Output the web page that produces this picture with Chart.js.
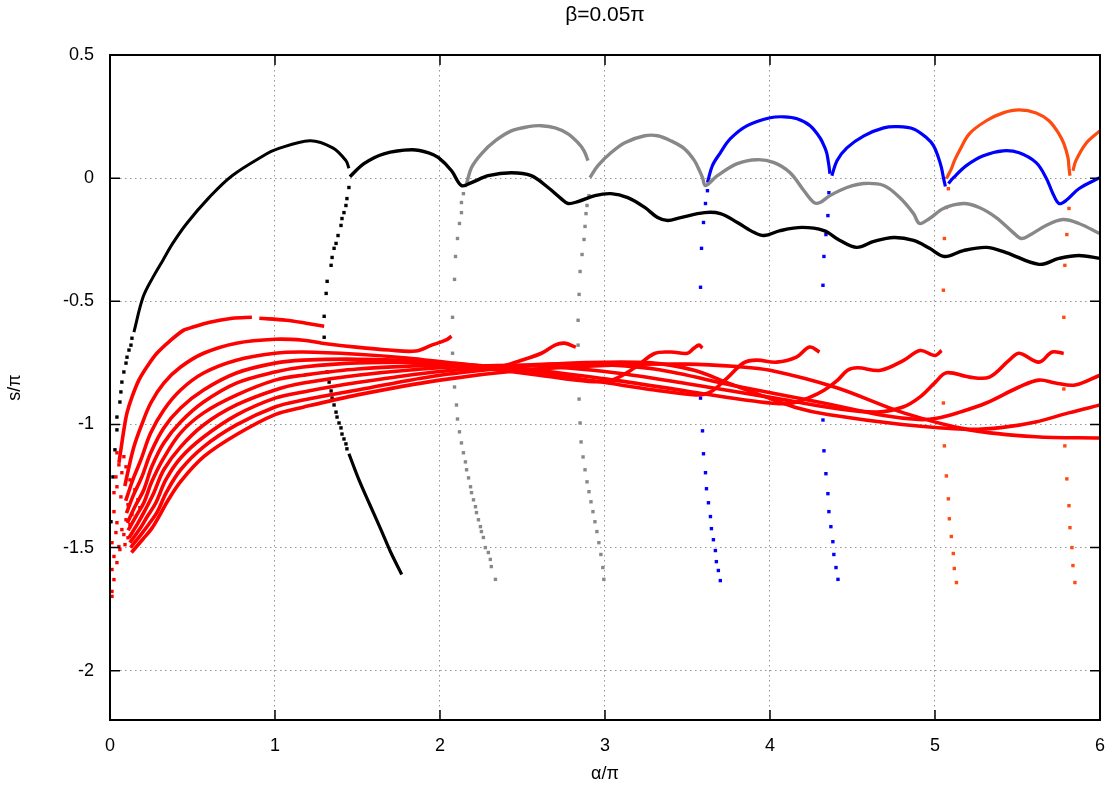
<!DOCTYPE html>
<html>
<head>
<meta charset="utf-8">
<script src="https://cdn.jsdelivr.net/npm/chart.js"></script>
<style>
html, body { margin: 0; padding: 0; background: #fff; }
canvas { display: block; }
</style>
</head>
<body>
<canvas id="plot" width="1120" height="792"></canvas>
<script>
// axis ticks
const xTicks = [0, 1, 2, 3, 4, 5, 6];
const yTicks = [-2, -1.5, -1, -0.5, 0, 0.5];

// black branch: rise from the left edge, peak near 1.2, cusp at 1.45
const blackRiseDots = [[0.006,-1.395],[0.018,-1.213],[0.030,-1.103],[0.042,-1.022],[0.042,-0.970],[0.060,-0.909],[0.066,-0.868],[0.072,-0.828],[0.084,-0.787],[0.097,-0.751],[0.103,-0.727],[0.115,-0.698],[0.127,-0.678],[0.133,-0.650]];
const blackRise = [[0.145,-0.625],[0.2,-0.484],[0.26,-0.403],[0.32,-0.334],[0.38,-0.265],[0.465,-0.184],[0.6,-0.079],[0.74,0.010],[0.95,0.099],[1.0,0.115],[1.21,0.152],[1.35,0.123],[1.43,0.071],[1.448,0.04]];
const blackDropDots = [[1.448,-0.038],[1.436,-0.083],[1.430,-0.111],[1.418,-0.140],[1.406,-0.164],[1.400,-0.192],[1.382,-0.233],[1.370,-0.265],[1.358,-0.285],[1.346,-0.322],[1.340,-0.354],[1.316,-0.419],[1.310,-0.468],[1.298,-0.561],[1.298,-0.646],[1.316,-0.787],[1.328,-0.828],[1.340,-0.864],[1.346,-0.893],[1.358,-0.921],[1.370,-0.950],[1.376,-0.970],[1.388,-0.994],[1.400,-1.014],[1.406,-1.039],[1.418,-1.059],[1.430,-1.079],[1.436,-1.099]];
const blackDrop = [[1.448,-1.119],[1.509,-1.225],[1.575,-1.326],[1.642,-1.427],[1.702,-1.520],[1.768,-1.609]];
const blackWave = [[1.454,0.006],[1.539,0.059],[1.660,0.099],[1.829,0.115],[1.931,0.103],[1.991,0.083],[2.070,0.030],[2.130,-0.030],[2.191,-0.018],[2.293,0.010],[2.432,0.022],[2.553,0.010],[2.655,-0.038],[2.734,-0.083],[2.776,-0.103],[2.836,-0.095],[2.939,-0.071],[3.036,-0.063],[3.138,-0.079],[3.241,-0.119],[3.319,-0.160],[3.380,-0.172],[3.458,-0.160],[3.603,-0.140],[3.699,-0.144],[3.802,-0.180],[3.905,-0.221],[3.965,-0.233],[4.062,-0.213],[4.194,-0.200],[4.327,-0.213],[4.424,-0.253],[4.526,-0.281],[4.629,-0.257],[4.750,-0.241],[4.870,-0.253],[4.967,-0.285],[5.057,-0.318],[5.172,-0.294],[5.311,-0.281],[5.431,-0.302],[5.630,-0.350],[5.751,-0.326],[5.872,-0.314],[5.999,-0.326]];

// gray branch
const grayArc = [[2.161,-0.022],[2.191,0.043],[2.251,0.099],[2.336,0.152],[2.432,0.192],[2.535,0.209],[2.613,0.213],[2.698,0.204],[2.776,0.180],[2.836,0.144],[2.873,0.111],[2.897,0.071]];
const grayWave = [[2.909,0.002],[2.957,0.051],[3.036,0.103],[3.120,0.144],[3.241,0.172],[3.319,0.172],[3.398,0.152],[3.482,0.119],[3.542,0.071],[3.573,0.030],[3.591,0.002],[3.609,-0.030],[3.681,0.010],[3.802,0.059],[3.923,0.075],[4.025,0.063],[4.122,0.022],[4.206,-0.051],[4.267,-0.099],[4.303,-0.099],[4.363,-0.071],[4.466,-0.038],[4.569,-0.022],[4.689,-0.030],[4.786,-0.079],[4.870,-0.144],[4.906,-0.184],[4.967,-0.164],[5.051,-0.123],[5.172,-0.103],[5.268,-0.119],[5.371,-0.160],[5.474,-0.221],[5.522,-0.245],[5.570,-0.233],[5.673,-0.192],[5.775,-0.168],[5.872,-0.184],[5.999,-0.225]];
const grayDrop1 = [[2.154,-0.030],[2.142,-0.063],[2.130,-0.099],[2.130,-0.140],[2.118,-0.184],[2.106,-0.245],[2.094,-0.318],[2.088,-0.411],[2.076,-0.565],[2.076,-0.711],[2.088,-0.848],[2.100,-0.921],[2.106,-0.978],[2.118,-1.030],[2.130,-1.075],[2.142,-1.115],[2.154,-1.152],[2.161,-1.184],[2.173,-1.217],[2.185,-1.253],[2.191,-1.277],[2.203,-1.306],[2.215,-1.334],[2.221,-1.358],[2.233,-1.387],[2.245,-1.415],[2.251,-1.435],[2.263,-1.459],[2.275,-1.500],[2.293,-1.520],[2.305,-1.548],[2.311,-1.577],[2.336,-1.629]];
const grayDrop2 = [[2.903,-0.071],[2.891,-0.111],[2.885,-0.144],[2.879,-0.196],[2.873,-0.249],[2.861,-0.310],[2.849,-0.379],[2.843,-0.472],[2.837,-0.577],[2.837,-0.678],[2.843,-0.897],[2.849,-0.994],[2.855,-1.071],[2.867,-1.132],[2.879,-1.184],[2.891,-1.233],[2.903,-1.273],[2.915,-1.314],[2.927,-1.354],[2.939,-1.395],[2.951,-1.435],[2.963,-1.480],[2.975,-1.528],[2.987,-1.581],[2.993,-1.629]];

// blue branch
const blueArc1 = [[3.621,-0.018],[3.651,0.051],[3.699,0.103],[3.760,0.160],[3.862,0.213],[4.001,0.245],[4.086,0.249],[4.164,0.241],[4.243,0.213],[4.303,0.164],[4.333,0.123],[4.345,0.099],[4.357,0.051],[4.363,0.018]];
const blueArc2 = [[4.375,0.010],[4.406,0.071],[4.466,0.123],[4.569,0.172],[4.689,0.204],[4.768,0.209],[4.870,0.200],[4.949,0.164],[4.991,0.132],[5.021,0.083],[5.039,0.043],[5.051,0.002],[5.063,-0.034]];
const blueArc3 = [[5.081,-0.022],[5.112,0.002],[5.190,0.051],[5.293,0.091],[5.413,0.111],[5.510,0.103],[5.613,0.063],[5.673,0.002],[5.715,-0.063],[5.751,-0.103],[5.794,-0.091],[5.872,-0.043],[5.999,0.002]];
const blueDrop1 = [[3.621,-0.051],[3.609,-0.103],[3.597,-0.180],[3.585,-0.285],[3.579,-0.443],[3.579,-0.893],[3.591,-1.026],[3.597,-1.119],[3.609,-1.196],[3.615,-1.261],[3.627,-1.318],[3.639,-1.374],[3.645,-1.423],[3.657,-1.468],[3.669,-1.512],[3.675,-1.557],[3.687,-1.593],[3.699,-1.634]];
const blueDrop2 = [[4.357,-0.059],[4.351,-0.152],[4.339,-0.229],[4.327,-0.318],[4.321,-0.435],[4.321,-0.982],[4.327,-1.107],[4.339,-1.200],[4.351,-1.281],[4.357,-1.354],[4.369,-1.415],[4.381,-1.476],[4.387,-1.528],[4.400,-1.581],[4.412,-1.629]];

// orange branch
const orangeArc1 = [[5.069,-0.002],[5.099,0.038],[5.118,0.071],[5.148,0.111],[5.208,0.180],[5.311,0.233],[5.413,0.265],[5.510,0.277],[5.613,0.265],[5.691,0.233],[5.751,0.180],[5.781,0.140],[5.806,0.083],[5.812,0.043],[5.818,0.010]];
const orangeArc2 = [[5.836,0.030],[5.854,0.071],[5.914,0.140],[5.999,0.192]];
const orangeDrop1 = [[5.081,-0.043],[5.069,-0.119],[5.057,-0.245],[5.051,-0.455],[5.051,-0.913],[5.057,-1.087],[5.069,-1.209],[5.081,-1.302],[5.087,-1.383],[5.099,-1.455],[5.111,-1.524],[5.117,-1.585],[5.130,-1.642]];
const orangeDrop2 = [[5.812,-0.123],[5.799,-0.229],[5.787,-0.354],[5.781,-0.565],[5.781,-0.856],[5.787,-1.087],[5.799,-1.221],[5.812,-1.330],[5.818,-1.419],[5.830,-1.500],[5.836,-1.573],[5.848,-1.642]];

// red family
const red1a = [[0.054,-1.156],[0.066,-1.103],[0.084,-1.022],[0.103,-0.953],[0.133,-0.889],[0.175,-0.820],[0.223,-0.767],[0.284,-0.711],[0.368,-0.658],[0.447,-0.617],[0.483,-0.609],[0.604,-0.585],[0.742,-0.569],[0.86,-0.565]];
const red1b = [[0.905,-0.569],[1.068,-0.577],[1.189,-0.589],[1.298,-0.601]];
const red2 = [[0.09,-1.25],[0.115,-1.172],[0.145,-1.091],[0.187,-1.010],[0.247,-0.913],[0.326,-0.832],[0.428,-0.767],[0.567,-0.711],[0.766,-0.670],[1.0,-0.654],[1.171,-0.658],[1.285,-0.670],[1.491,-0.686],[1.690,-0.698],[1.853,-0.702],[1.949,-0.678],[2.034,-0.658],[2.070,-0.642]];
const red3 = [[0.095,-1.31],[0.12,-1.26],[0.145,-1.213],[0.187,-1.144],[0.247,-1.034],[0.326,-0.941],[0.428,-0.860],[0.567,-0.791],[0.766,-0.739],[1.0,-0.711],[1.171,-0.706],[1.5,-0.715],[1.8,-0.73],[2.1,-0.752],[2.35,-0.765],[2.494,-0.739],[2.615,-0.711],[2.697,-0.678],[2.755,-0.670],[2.823,-0.686]];
const red4 = [[0.10,-1.36],[0.14,-1.29],[0.193,-1.213],[0.247,-1.115],[0.326,-1.014],[0.428,-0.933],[0.567,-0.860],[0.766,-0.791],[1.0,-0.751],[1.171,-0.739],[1.5,-0.735],[1.9,-0.745],[2.3,-0.775],[2.6,-0.80],[2.9,-0.825],[3.04,-0.82],[3.18,-0.77],[3.30,-0.712],[3.40,-0.706],[3.50,-0.711],[3.54,-0.69],[3.57,-0.678],[3.59,-0.69]];
const red5 = [[0.105,-1.40],[0.15,-1.335],[0.205,-1.265],[0.253,-1.172],[0.326,-1.075],[0.428,-0.990],[0.567,-0.909],[0.766,-0.832],[1.0,-0.787],[1.171,-0.767],[1.5,-0.75],[2.0,-0.75],[2.5,-0.78],[3.0,-0.83],[3.3,-0.86],[3.55,-0.88],[3.64,-0.868],[3.74,-0.812],[3.84,-0.75],[3.92,-0.739],[4.04,-0.747],[4.16,-0.727],[4.24,-0.686],[4.30,-0.706]];
const red6 = [[0.11,-1.43],[0.16,-1.37],[0.205,-1.318],[0.253,-1.233],[0.326,-1.136],[0.428,-1.034],[0.567,-0.953],[0.766,-0.881],[1.0,-0.820],[1.171,-0.800],[1.5,-0.775],[2.0,-0.76],[2.5,-0.775],[3.0,-0.815],[3.5,-0.865],[3.9,-0.905],[4.12,-0.915],[4.24,-0.89],[4.33,-0.86],[4.41,-0.82],[4.47,-0.78],[4.53,-0.77],[4.67,-0.78],[4.81,-0.74],[4.91,-0.70],[5.0,-0.72],[5.04,-0.70]];
const red7 = [[0.115,-1.46],[0.17,-1.40],[0.215,-1.345],[0.266,-1.277],[0.326,-1.184],[0.428,-1.091],[0.567,-1.002],[0.766,-0.921],[1.0,-0.860],[1.171,-0.832],[1.5,-0.80],[2.0,-0.77],[2.5,-0.76],[3.0,-0.785],[3.5,-0.835],[4.0,-0.89],[4.4,-0.935],[4.65,-0.95],[4.81,-0.928],[4.91,-0.888],[5.0,-0.83],[5.07,-0.79],[5.21,-0.808],[5.33,-0.808],[5.45,-0.739],[5.51,-0.711],[5.63,-0.747],[5.71,-0.706],[5.78,-0.712]];
const red8 = [[0.12,-1.48],[0.18,-1.425],[0.225,-1.375],[0.278,-1.318],[0.338,-1.225],[0.428,-1.136],[0.567,-1.051],[0.766,-0.962],[1.0,-0.893],[1.171,-0.868],[1.5,-0.83],[2.0,-0.785],[2.5,-0.76],[2.9,-0.755],[3.3,-0.775],[3.8,-0.845],[4.3,-0.91],[4.7,-0.965],[4.9,-0.98],[5.01,-0.975],[5.15,-0.95],[5.31,-0.913],[5.51,-0.848],[5.63,-0.820],[5.73,-0.832],[5.85,-0.840],[6.0,-0.80]];
const red9 = [[0.125,-1.50],[0.19,-1.445],[0.235,-1.405],[0.284,-1.358],[0.344,-1.273],[0.428,-1.184],[0.567,-1.091],[0.766,-1.002],[1.0,-0.929],[1.171,-0.901],[1.5,-0.86],[2.0,-0.80],[2.5,-0.765],[2.84,-0.75],[3.28,-0.75],[3.54,-0.78],[3.74,-0.83],[3.94,-0.88],[4.15,-0.93],[4.35,-0.96],[4.8,-1.0],[5.2,-1.02],[5.41,-1.012],[5.61,-0.99],[5.81,-0.953],[6.0,-0.921]];
const red10 = [[0.13,-1.52],[0.2,-1.465],[0.25,-1.425],[0.30,-1.37],[0.35,-1.31],[0.43,-1.23],[0.57,-1.13],[0.77,-1.04],[1.0,-0.96],[1.17,-0.93],[1.5,-0.88],[2.0,-0.82],[2.5,-0.78],[3.0,-0.76],[3.5,-0.755],[3.8,-0.765],[4.0,-0.78],[4.4,-0.85],[4.81,-0.953],[5.21,-1.022],[5.61,-1.05],[6.0,-1.055]];
const redDots = [[0.042,-1.115],[0.054,-1.164],[0.036,-1.213],[0.024,-1.277],[0.084,-1.131],[0.097,-1.172],[0.072,-1.196],[0.042,-1.253],[0.066,-1.294],[0.024,-1.354],[0.042,-1.399],[0.072,-1.427],[0.036,-1.439],[0.012,-1.480],[0.054,-1.496],[0.024,-1.536],[0.042,-1.561],[0.012,-1.589],[0.024,-1.630],[0.012,-1.678],[0.012,-1.698],[0.121,-1.225],[0.151,-1.265],[0.169,-1.306],[0.181,-1.338],[0.109,-1.326],[0.133,-1.366],[0.097,-1.387],[0.121,-1.407],[0.084,-1.447],[0.109,-1.460],[0.060,-1.508],[0.091,-1.488]];

const BLACK = '#000000', GRAY = '#888888', BLUE = '#0000ff', ORANGE = '#ff4a10', RED = '#ff0000';
const FONT = 'Liberation Sans, Arial, sans-serif';

function pts(arr) {
    return arr.map(p => ({x: p[0], y: p[1]}));
}
function curve(arr, color, width) {
    return {data: pts(arr), showLine: true, borderColor: color, borderWidth: width,
            pointRadius: 0, tension: 0.35, fill: false};
}
function dots(arr, color) {
    return {data: pts(arr), showLine: false, pointStyle: 'rect', pointRadius: 2.4,
            backgroundColor: color, borderColor: color, borderWidth: 0};
}

// inward tick marks and the box around the plot
const frame = {
    id: 'frame',
    afterDatasetsDraw(chart) {
        const {ctx, chartArea: a, scales: {x, y}} = chart;
        ctx.save();
        ctx.strokeStyle = '#000';
        ctx.lineWidth = 1.5;
        ctx.beginPath();
        xTicks.forEach(v => {
            const px = x.getPixelForValue(v);
            ctx.moveTo(px, a.bottom); ctx.lineTo(px, a.bottom - 10);
            ctx.moveTo(px, a.top); ctx.lineTo(px, a.top + 10);
        });
        yTicks.forEach(v => {
            const py = y.getPixelForValue(v);
            ctx.moveTo(a.left, py); ctx.lineTo(a.left + 10, py);
            ctx.moveTo(a.right, py); ctx.lineTo(a.right - 10, py);
        });
        ctx.stroke();
        ctx.lineWidth = 2;
        ctx.strokeRect(a.left, a.top, a.right - a.left, a.bottom - a.top);
        ctx.restore();
    }
};

const datasets = [
    curve(red1a, RED, 3.6), curve(red1b, RED, 3.6), curve(red2, RED, 3.6), curve(red3, RED, 3.6),
    curve(red4, RED, 3.6), curve(red5, RED, 3.6), curve(red6, RED, 3.6), curve(red7, RED, 3.6),
    curve(red8, RED, 3.6), curve(red9, RED, 3.6), curve(red10, RED, 3.6), dots(redDots, RED),
    curve(blackRise, BLACK, 3), dots(blackRiseDots, BLACK), dots(blackDropDots, BLACK),
    curve(blackDrop, BLACK, 3.2), curve(blackWave, BLACK, 3.4),
    curve(grayArc, GRAY, 3.4), curve(grayWave, GRAY, 3.4), dots(grayDrop1, GRAY), dots(grayDrop2, GRAY),
    curve(blueArc1, BLUE, 3.2), curve(blueArc2, BLUE, 3.2), curve(blueArc3, BLUE, 3.2),
    dots(blueDrop1, BLUE), dots(blueDrop2, BLUE),
    curve(orangeArc1, ORANGE, 3.2), curve(orangeArc2, ORANGE, 3.2),
    dots(orangeDrop1, ORANGE), dots(orangeDrop2, ORANGE)
];

const gridColor = 'rgba(0,0,0,0.42)';

new Chart(document.getElementById('plot'), {
    type: 'scatter',
    data: {datasets: datasets},
    options: {
        responsive: false,
        animation: false,
        events: [],
        layout: {padding: {left: 0, right: 16, top: 0, bottom: 0}},
        plugins: {
            legend: {display: false},
            tooltip: {enabled: false},
            title: {
                display: true,
                fullSize: false,
                text: 'β=0.05π',
                color: '#000',
                font: {family: FONT, size: 21, weight: 'normal'},
                padding: {top: 3, bottom: 26.8}
            }
        },
        scales: {
            x: {
                type: 'linear', min: 0, max: 6,
                afterBuildTicks: s => { s.ticks = xTicks.map(v => ({value: v})); },
                afterFit: s => { s.height = 72; },
                ticks: {color: '#000', font: {family: FONT, size: 18}, padding: 15, maxRotation: 0,
                        callback: v => String(v)},
                grid: {color: gridColor, lineWidth: 1, drawTicks: false},
                border: {display: false, dash: [1.5, 3.5]},
                title: {display: true, text: 'α/π', color: '#000',
                        font: {family: FONT, size: 18}, padding: {top: 0, bottom: 7}}
            },
            y: {
                type: 'linear', min: -2.2, max: 0.5,
                afterBuildTicks: s => { s.ticks = yTicks.map(v => ({value: v})); },
                afterFit: s => { s.width = 110; },
                ticks: {color: '#000', font: {family: FONT, size: 18}, padding: 16,
                        callback: v => String(v)},
                grid: {color: gridColor, lineWidth: 1, drawTicks: false},
                border: {display: false, dash: [1.5, 3.5]},
                title: {display: true, text: 's/π', color: '#000',
                        font: {family: FONT, size: 18}, padding: {top: 4, bottom: 0}}
            }
        }
    },
    plugins: [frame]
});
</script>
</body>
</html>
